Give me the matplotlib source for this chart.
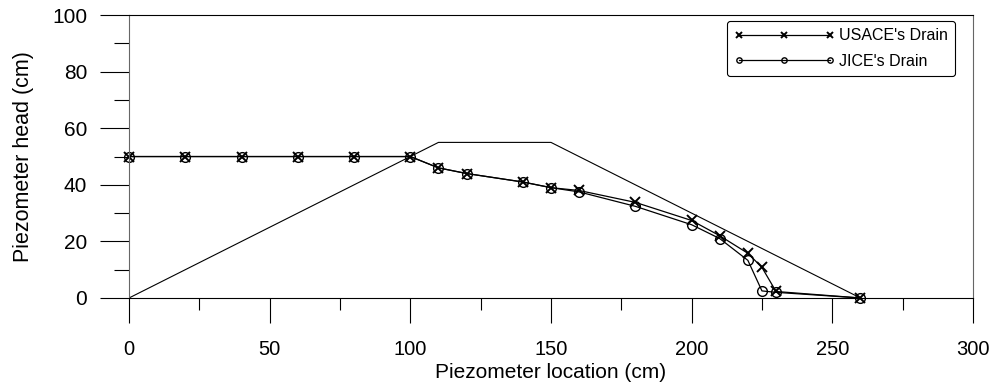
import matplotlib
matplotlib.use("Agg")
import matplotlib.pyplot as plt
from matplotlib.ticker import MultipleLocator

plt.rcParams['font.family'] = ['Liberation Sans', 'DejaVu Sans']

# piezometer readings
loc = [0, 20, 40, 60, 80, 100, 110, 120, 140, 150, 160, 180, 200, 210, 220, 225, 230, 260]
usace = [50, 50, 50, 50, 50, 50, 46, 44, 41, 39, 38, 33.8, 27.4, 22, 15.8, 10.8, 2.3, 0]
jice = [50, 50, 50, 50, 50, 50, 46, 44, 41, 39, 37.5, 32.4, 25.9, 21, 13.3, 2.5, 2.0, 0]

# embankment outline
dam_x = [0, 110, 150, 260]
dam_y = [0, 55, 55, 0]

fig = plt.figure(figsize=(9.94, 3.87), dpi=100)
ax = fig.add_axes([0.1298, 0.23, 0.849, 0.731])

ax.plot(dam_x, dam_y, color='black', lw=0.8)
ax.plot(loc, usace, color='black', lw=0.9, marker='x', ms=7.5, mew=1.4,
        label="USACE's Drain", clip_on=False)
ax.plot(loc, jice, color='black', lw=0.9, marker='o', ms=7, mfc='none', mew=1.0,
        label="JICE's Drain", clip_on=False)

ax.set_xlim(0, 300)
ax.set_ylim(0, 100)
ax.xaxis.set_major_locator(MultipleLocator(50))
ax.xaxis.set_minor_locator(MultipleLocator(25))
ax.yaxis.set_major_locator(MultipleLocator(20))
ax.yaxis.set_minor_locator(MultipleLocator(10))
ax.tick_params(axis='x', which='major', direction='out', length=18, width=0.8, pad=12, labelsize=14.5)
ax.tick_params(axis='x', which='minor', direction='out', length=8.6, width=0.8)
ax.tick_params(axis='y', which='major', direction='out', length=21, width=0.8, pad=9, labelsize=15)
ax.tick_params(axis='y', which='minor', direction='out', length=10.8, width=0.8)
for s in ax.spines.values():
    s.set_linewidth(0.8)
ax.spines['left'].set_color('#666666')
ax.spines['right'].set_color('#666666')

ax.set_xlabel('Piezometer location (cm)', fontsize=15, labelpad=3)
ax.set_ylabel('Piezometer head (cm)', fontsize=15.5, labelpad=13)

leg = ax.legend(loc='upper right', bbox_to_anchor=(0.979, 0.979), borderaxespad=0,
                fontsize=11.5, numpoints=3, markerscale=0.55, handlelength=6.3,
                fancybox=True, frameon=True, edgecolor='black', framealpha=1,
                labelspacing=0.65, handletextpad=0.3, borderpad=0.45)
leg.get_frame().set_linewidth(0.8)

fig.savefig('out.png', dpi=100)
